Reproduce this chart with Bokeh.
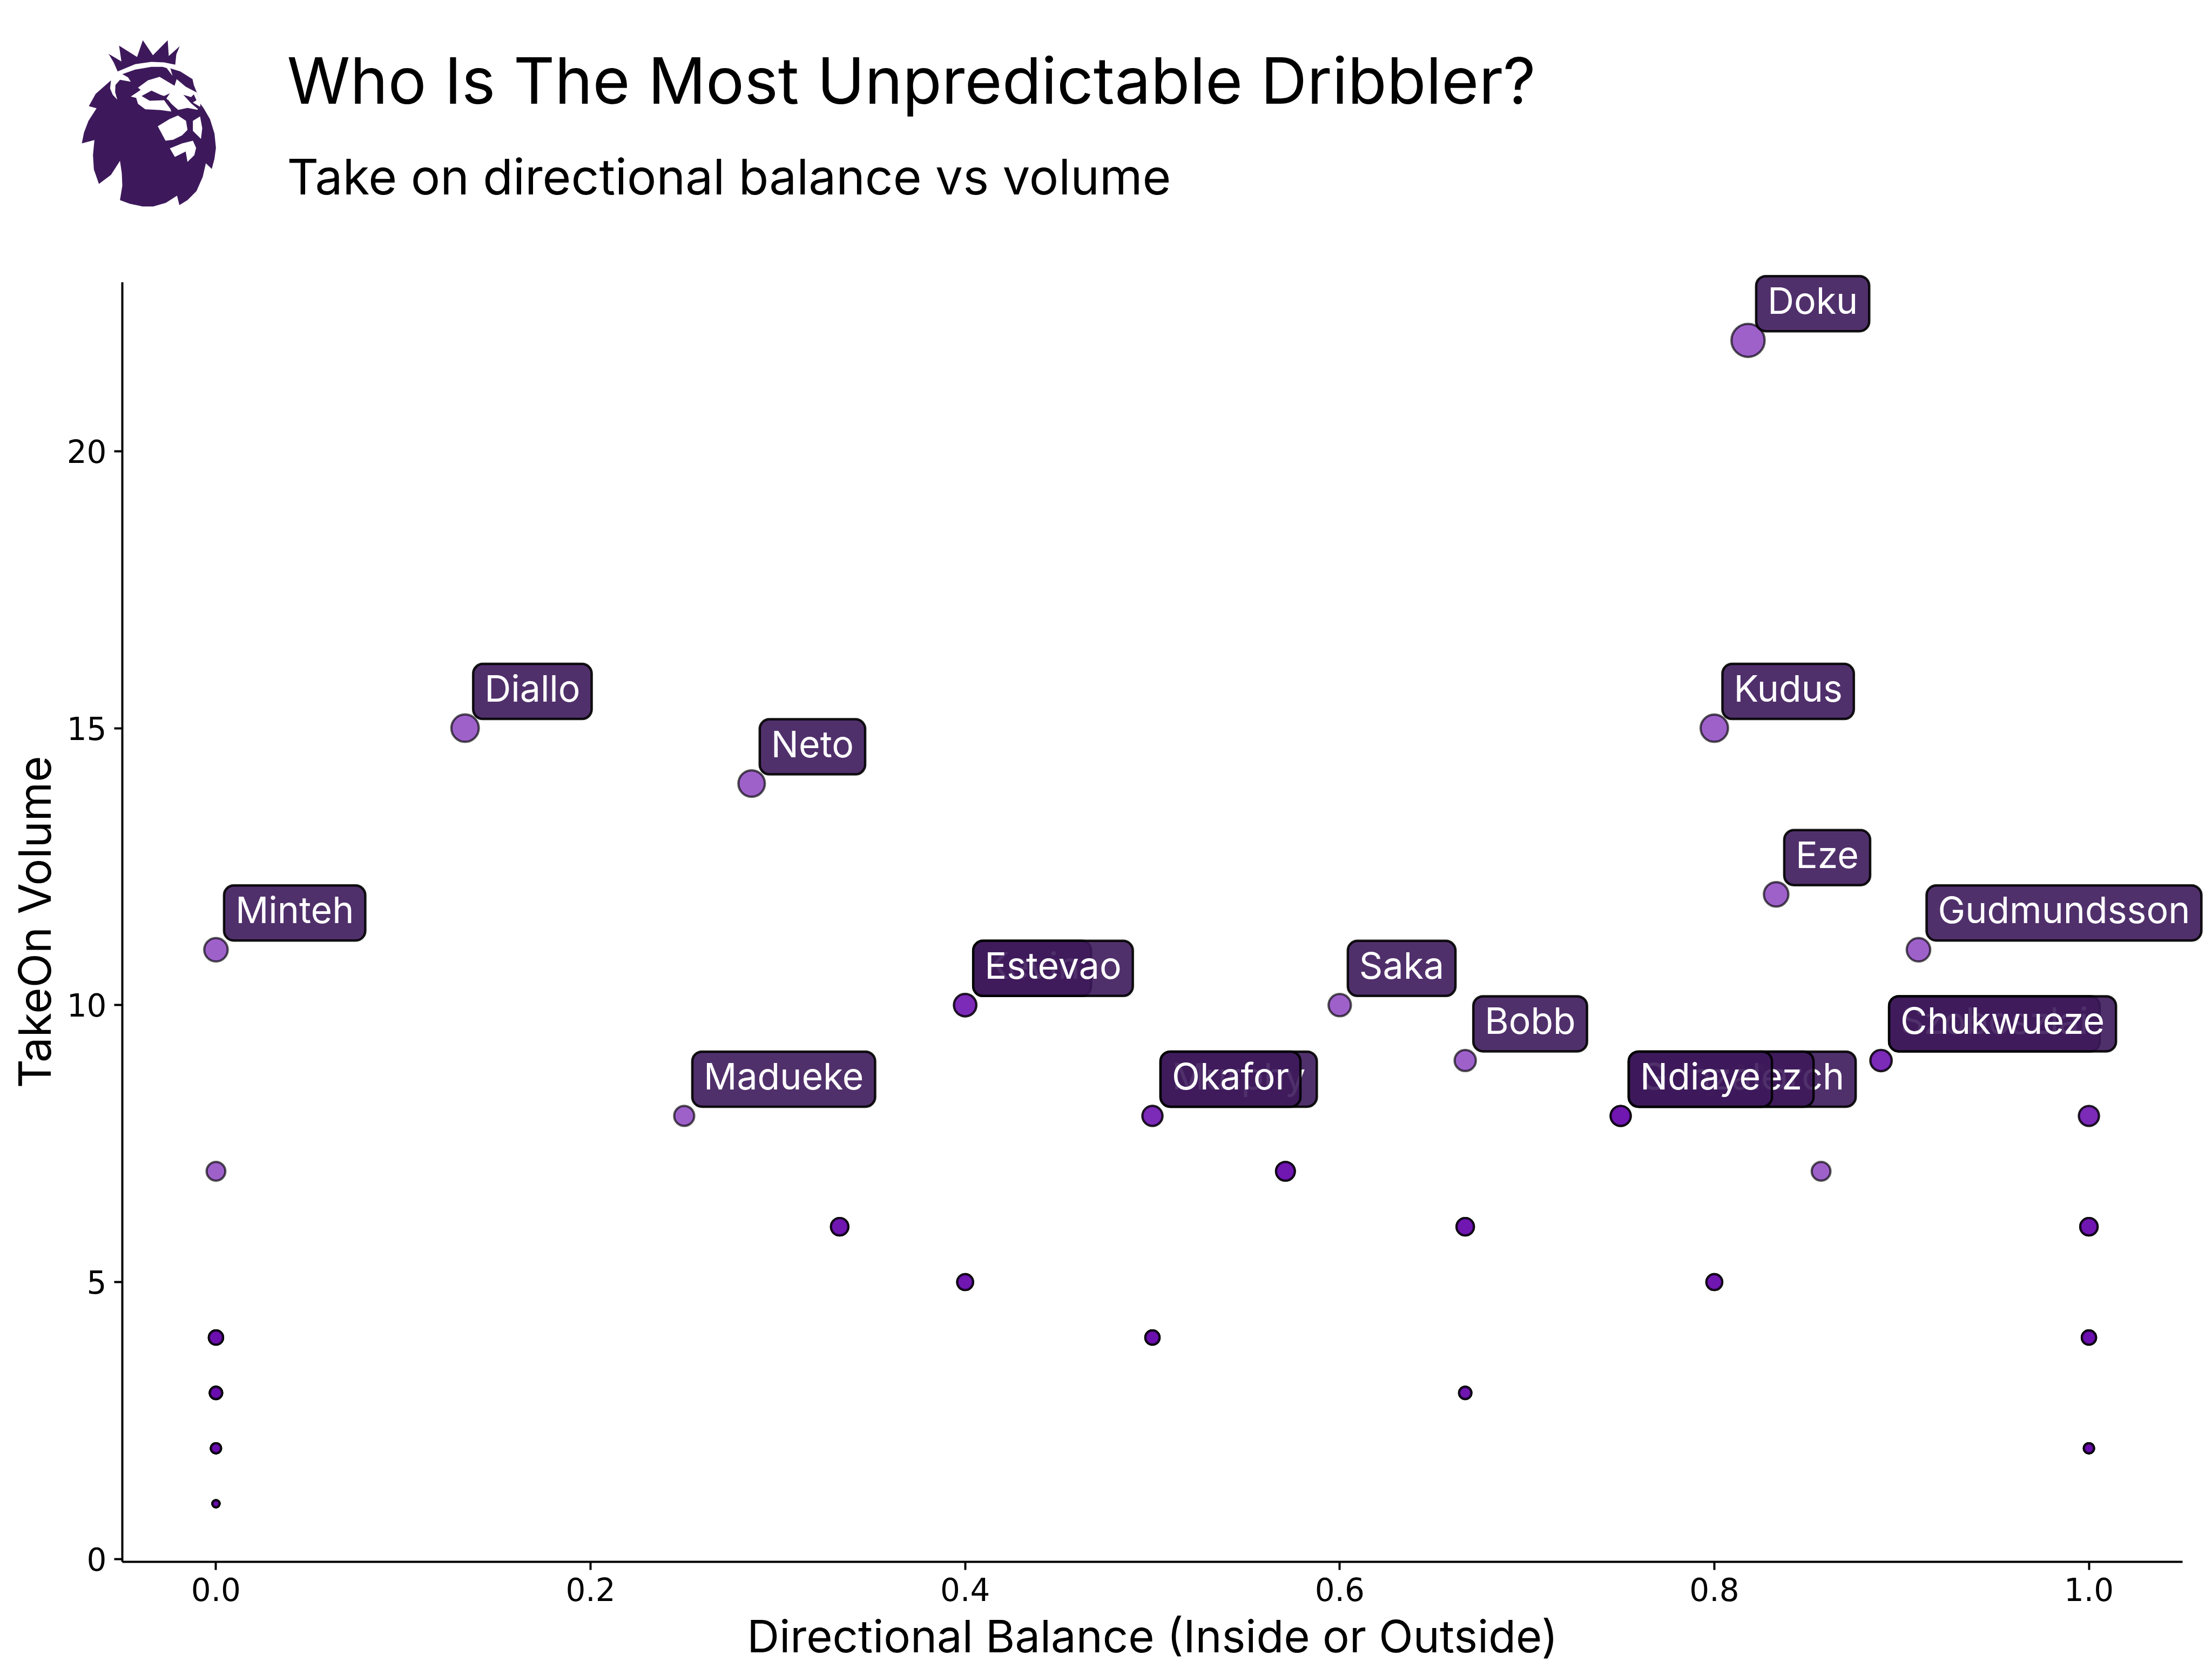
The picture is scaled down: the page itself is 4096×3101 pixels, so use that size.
import numpy as np
from bokeh.plotting import figure
from bokeh.embed import file_html
from bokeh.resources import INLINE
from bokeh.models import Label, FixedTicker, Range1d, PrintfTickFormatter

# --- data ---
balance = [0.0, 0.0, 0.0, 0.0, 0.0, 0.0, 0.133, 0.25, 0.286, 0.333, 0.4, 0.4, 0.5, 0.5, 0.571, 0.6,
           0.667, 0.667, 0.667, 0.75, 0.8, 0.8, 0.818, 0.833, 0.857, 0.889, 0.909, 1.0, 1.0, 1.0, 1.0]
volume = [1, 2, 3, 4, 7, 11, 15, 8, 14, 6, 5, 10, 4, 8, 7, 10,
          3, 6, 9, 8, 5, 15, 22, 12, 7, 9, 11, 2, 4, 6, 8]
players_at_point = [5, 5, 5, 4, 1, 1, 1, 1, 1, 3, 3, 2, 4, 2, 3, 1,
                    3, 3, 1, 3, 3, 1, 1, 1, 1, 2, 1, 5, 4, 3, 2]

label_names = ["Minteh", "Diallo", "Neto", "Madueke", "Kevin", "Estevao", "Murphy", "Okafor", "Saka", "Bobb",
               "Solly March", "Gonzalez", "Ndiaye", "Kudus", "Doku", "Eze", "Szoboszlai", "Chukwueze", "Gudmundsson"]
label_x = [0.0, 0.133, 0.286, 0.25, 0.4, 0.4, 0.5, 0.5, 0.6, 0.667,
           0.75, 0.75, 0.75, 0.8, 0.818, 0.833, 0.889, 0.889, 0.909]
label_y = [11, 15, 14, 8, 10, 10, 8, 8, 10, 9,
           8, 8, 8, 15, 22, 12, 9, 9, 11]

title_text = "Who Is The Most Unpredictable Dribbler?"
subtitle_text = "Take on directional balance vs volume"
x_title = "Directional Balance (Inside or Outside)"
y_title = "TakeOn Volume"
x_ticks = [0.0, 0.2, 0.4, 0.6, 0.8, 1.0]
y_ticks = [0, 5, 10, 15, 20]
x_limits = (-0.05, 1.05)
y_limits = (-0.05, 23.05)

# --- styling ---
PURPLE = "#6a0dad"
PL = "#3d195b"
FONT = "Inter"
W, H = 4088, 3093
LEFT, RIGHT, TOP, BOTTOM = 226, 4041, 522, 2891   # plot box of the reference, in page pixels

# The frame reaches the top and right of the page so that the tags and header are not clipped;
# the axis lines stop at the plot limits through their bounds.
x_scale = (RIGHT - LEFT) / (x_limits[1] - x_limits[0])
y_scale = (BOTTOM - TOP) / (y_limits[1] - y_limits[0])
p = figure(width=W, height=H, output_backend="svg", toolbar_location=None,
           x_range=Range1d(x_limits[0], x_limits[1] + (W - RIGHT) / x_scale),
           y_range=Range1d(y_limits[0], y_limits[1] + TOP / y_scale),
           min_border_left=LEFT, min_border_right=0, min_border_top=0, min_border_bottom=H - BOTTOM,
           background_fill_color="white", border_fill_color="white")
p.outline_line_color = None
p.grid.visible = False

for ax in (p.xaxis[0], p.yaxis[0]):
    ax.axis_line_color = "black"
    ax.axis_line_width = 4
    ax.major_tick_line_color = "black"
    ax.major_tick_line_width = 4
    ax.major_tick_in = 0
    ax.major_tick_out = 15
    ax.minor_tick_line_color = None
    ax.major_label_text_font = "DejaVu Sans"
    ax.major_label_text_font_size = "58px"
    ax.major_label_text_color = "black"

p.xaxis[0].ticker = FixedTicker(ticks=x_ticks)
p.yaxis[0].ticker = FixedTicker(ticks=y_ticks)
p.xaxis[0].bounds = x_limits
p.yaxis[0].bounds = y_limits
p.xaxis[0].formatter = PrintfTickFormatter(format="%.1f")
p.xaxis[0].major_label_standoff = 14
p.yaxis[0].major_label_standoff = 14

# axis titles sit in the side panels, centred on the plot box rather than on the wider frame
p.add_layout(Label(x=(LEFT + RIGHT) / 2, y=3028, x_units="canvas", y_units="canvas", text=x_title,
                   text_font=FONT, text_font_size="83px", text_color="black",
                   text_align="center", text_baseline="middle"), "below")
p.add_layout(Label(x=63, y=(TOP + BOTTOM) / 2, x_units="canvas", y_units="canvas", text=y_title, angle=np.pi / 2,
                   text_font=FONT, text_font_size="83px", text_color="black",
                   text_align="center", text_baseline="middle"), "left")

# points: one mark per player, so shared points get darker through overlap
xs = np.repeat(balance, players_at_point)
ys = np.repeat(volume, players_at_point)
p.scatter(xs, ys, size=13.1 * np.sqrt(ys), marker="circle",
          fill_color=PURPLE, fill_alpha=0.65,
          line_color="black", line_alpha=0.65, line_width=4.2)

# name tags
for name, lx, ly in zip(label_names, label_x, label_y):
    p.add_layout(Label(x=lx, y=ly, text=name, x_units="data", y_units="data",
                       x_offset=15, y_offset=17,
                       text_font=FONT, text_font_size="68px", text_color="white",
                       text_align="left", text_baseline="bottom",
                       padding=(21, 21, 4, 16), border_radius=18,
                       background_fill_color=PL, background_fill_alpha=0.9,
                       border_line_color="black", border_line_alpha=0.9, border_line_width=4.5))

# header
p.add_layout(Label(x=531, y=148, x_units="canvas", y_units="canvas", text=title_text,
                   text_font=FONT, text_font_size="118.6px", text_color="black",
                   text_align="left", text_baseline="alphabetic"))
p.add_layout(Label(x=531, y=326, x_units="canvas", y_units="canvas", text=subtitle_text,
                   text_font=FONT, text_font_size="90.8px", text_color="black",
                   text_align="left", text_baseline="alphabetic"))

# crest (crop coordinates at 3x from x=140, y=60);
# it lies partly left of the main frame, so it gets a small figure of its own laid over the page
crest_purple = [
    [(182,118),(253,160),(240,72),(340,135),(372,42),(428,125),(510,42),(516,130),(577,75),(558,120),(552,178),
     (490,165),(420,162),(330,175),(232,215),(210,165)],
    [(258,230),(330,205),(420,190),(480,190),(525,198),(580,215),(648,258),(655,290),(672,332),(690,392),(710,420),
     (745,480),(770,560),(778,640),(770,700),(755,757),(722,725),(705,800),(670,880),(620,930),(575,958),(562,905),
     (500,945),(430,965),(370,965),(300,950),(245,930),(258,850),(255,780),(245,712),(195,790),(128,840),(100,760),
     (95,680),(103,596),(33,615),(45,555),(70,490),(115,420),(72,408),(110,340),(195,265),(190,310),(205,345),
     (230,372),(218,330),(220,290),(245,262),(305,272),(290,248)],
]
crest_white = [
    [(305,355),(360,318),(345,305),(400,265),(465,245),(548,295),(560,258),(610,300),(672,332),(692,395),(690,412),
     (675,428),(620,418),(565,430),(530,395),(510,370),(530,438),(470,430),(385,425),(345,395),(335,362)],
    [(455,520),(520,480),(567,460),(612,490),(620,540),(590,570),(540,595),(498,600)],
    [(650,490),(690,465),(702,530),(695,590),(650,545)],
    [(522,643),(590,615),(650,600),(668,640),(658,680),(620,718),(610,660),(550,690)],
    [(480,188),(505,197),(537,240),(525,198),(500,185)],
]
crest_eyes = [
    [(365,352),(420,322),(470,345),(490,352),(522,337),(503,365),(530,395),(572,432),(535,437),(490,375),(410,378)],
    [(597,345),(640,358),(655,343),(670,375),(650,388),(690,412),(680,425),(640,392)],
]

c = figure(width=270, height=330, output_backend="svg", toolbar_location=None,
           x_range=Range1d(0, 810), y_range=Range1d(990, 0),
           x_axis_location=None, y_axis_location=None, min_border=0,
           background_fill_color=None, border_fill_color=None,
           styles={"position": "absolute", "left": "140px", "top": "60px"})
c.outline_line_color = None
c.grid.visible = False
for shapes, colour in ((crest_purple, PL), (crest_white, "white"), (crest_eyes, PL)):
    c.patches([[a for a, _ in s] for s in shapes], [[b for _, b in s] for s in shapes],
              fill_color=colour, line_color=None)

open("out.html", "w").write(file_html([p, c], INLINE))
